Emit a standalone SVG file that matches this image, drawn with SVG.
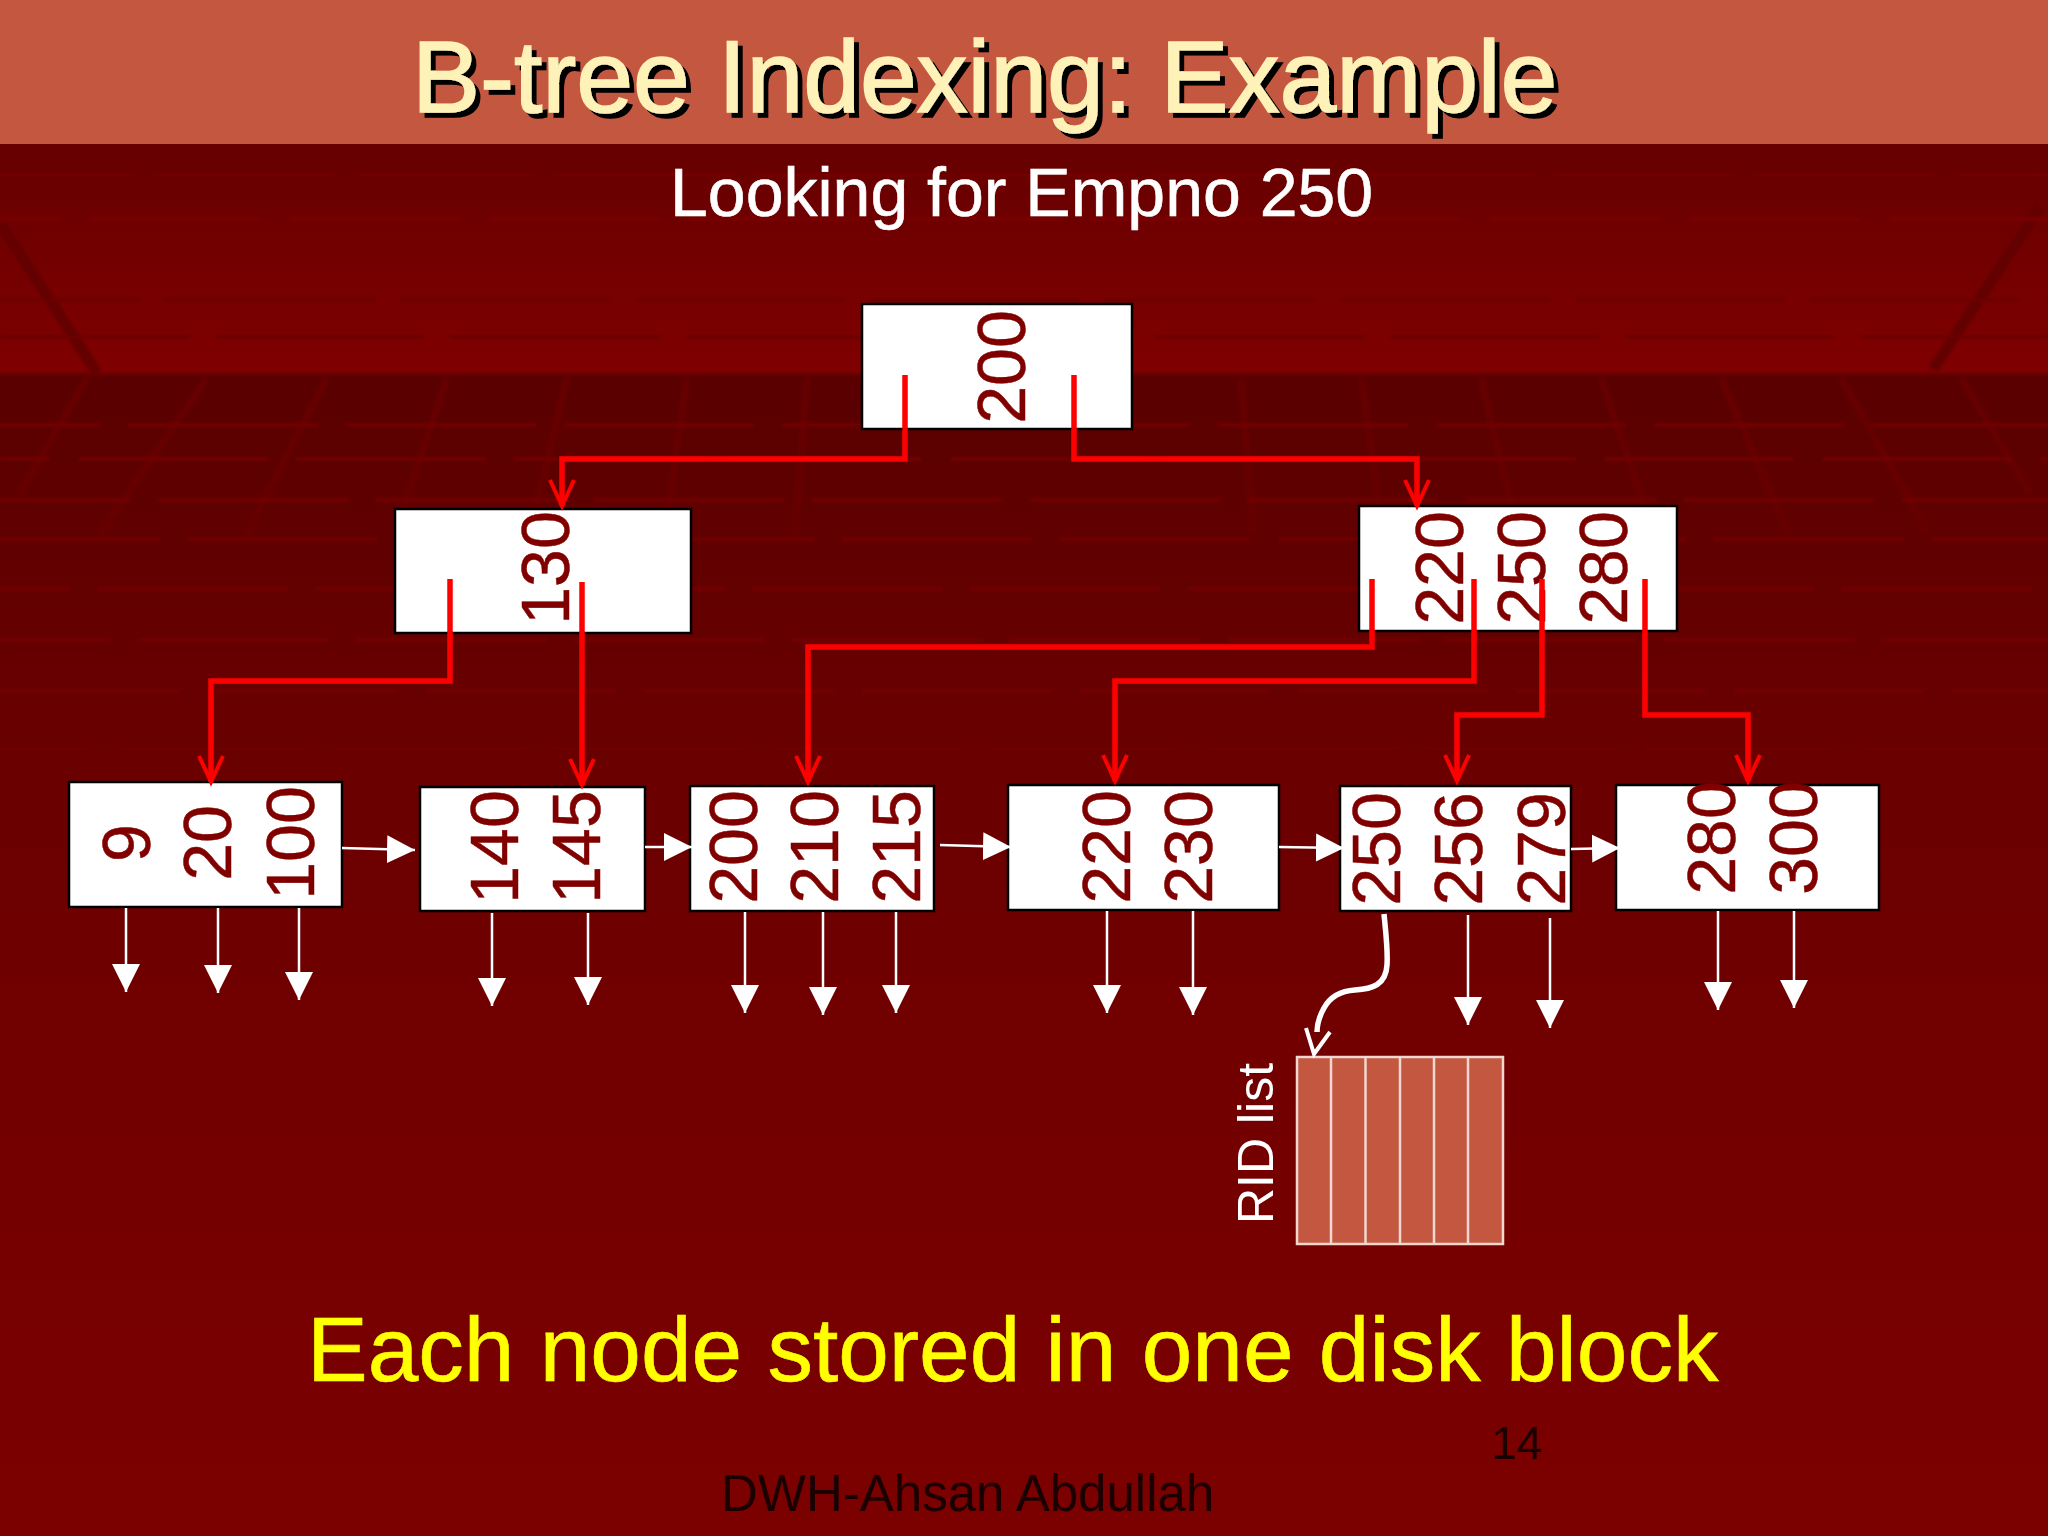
<svg xmlns="http://www.w3.org/2000/svg" width="2048" height="1536" viewBox="0 0 2048 1536">
<style>
.d{font-family:"Liberation Sans",Arial,sans-serif;font-size:68px;fill:#800000;stroke:#800000;stroke-width:.5;text-anchor:middle}
.box{fill:#fff;stroke:#000;stroke-width:2.5}
.red{fill:none;stroke:#f00;stroke-width:5.5;stroke-linejoin:miter;marker-end:url(#open)}
.wh{fill:none;stroke:#fff;stroke-width:2.5;marker-end:url(#solid)}
.sl{stroke:#7c0000;stroke-width:3.5;stroke-dasharray:170 30}
.sd{stroke:#6c0000;stroke-width:3.5;stroke-dasharray:210 25}
.sf{stroke:#760000;stroke-width:3;stroke-dasharray:190 28}
.fan{stroke:#660000;stroke-width:7;fill:none}
.diag{stroke:#640000;stroke-width:11;fill:none}
</style>
<defs>
<linearGradient id="bg" gradientUnits="userSpaceOnUse" x1="0" y1="144" x2="0" y2="1536">
<stop offset="0" stop-color="#660000"/>
<stop offset=".163" stop-color="#800000"/>
<stop offset=".167" stop-color="#5a0000"/>
<stop offset=".4" stop-color="#680000"/>
<stop offset=".65" stop-color="#720000"/>
<stop offset="1" stop-color="#7c0000"/>
</linearGradient>
<filter id="soft" x="0" y="0" width="1" height="1"><feGaussianBlur stdDeviation="1.5"/></filter>
<filter id="shadow" x="-5%" y="-20%" width="110%" height="140%"><feDropShadow dx="5" dy="5" stdDeviation="0" flood-color="#000"/></filter>
<marker id="open" markerUnits="userSpaceOnUse" markerWidth="40" markerHeight="40" refX="27" refY="20" orient="auto" viewBox="0 0 40 40" overflow="visible">
<path d="M1,8 L27,20 L1,32" fill="none" stroke="#f00" stroke-width="4"/>
</marker>
<marker id="solid" markerUnits="userSpaceOnUse" markerWidth="30" markerHeight="30" refX="28" refY="15" orient="auto" viewBox="0 0 30 30">
<path d="M0,1 L28,15 L0,29 Z" fill="#fff"/>
</marker>
</defs>
<rect width="2048" height="1536" fill="url(#bg)"/>
<g id="texture" filter="url(#soft)">
<path class="diag" d="M0,223L97,373M2040,207L1933,369"/>
<path class="fan" d="M87,378L20,493M207,378L100,533M327,378L247,533M447,378L395,533M567,378L530,533M687,378L665,533M807,378L795,533M1241,378L1253,533M1361,378L1383,533M1481,378L1518,533M1601,378L1653,533M1721,378L1788,533M1841,378L1928,533M1961,378L2030,493"/>
<line class="sl" x1="0" y1="174" x2="2048" y2="174" stroke-dashoffset="40"/>
<line class="sl" x1="0" y1="219" x2="2048" y2="219" stroke-dashoffset="110"/>
<line class="sd" x1="0" y1="300" x2="2048" y2="300" stroke-dashoffset="70"/>
<line class="sd" x1="0" y1="337" x2="2048" y2="337" stroke-dashoffset="20"/>
<line class="sf" x1="0" y1="425" x2="2048" y2="425" stroke-dashoffset="90"/>
<line class="sf" x1="0" y1="459" x2="2048" y2="459" stroke-dashoffset="140"/>
<line class="sf" x1="0" y1="500" x2="2048" y2="500" stroke-dashoffset="60"/>
<line class="sf" x1="0" y1="539" x2="2048" y2="539" stroke-dashoffset="30"/>
<line class="sf" x1="0" y1="589" x2="2048" y2="589" stroke-dashoffset="120"/>
<line class="sf" x1="0" y1="640" x2="2048" y2="640" stroke-dashoffset="80"/>
<line class="sf" x1="0" y1="691" x2="2048" y2="691" stroke-dashoffset="10"/>
<line class="sf" x1="0" y1="750" x2="2048" y2="750" stroke-dashoffset="100"/>
</g>
<rect width="2048" height="144" fill="#c4573f"/>
<text id="title" x="412" y="112" font-family="'Liberation Sans',Arial,sans-serif" font-size="102" fill="#fff2b8" stroke="#fff2b8" stroke-width="1.5" filter="url(#shadow)">B-tree Indexing: Example</text>
<text id="subtitle" x="670" y="216" font-family="'Liberation Sans',Arial,sans-serif" font-size="68" fill="#fff" stroke="#fff" stroke-width=".6">Looking for Empno 250</text>

<g id="node-root"><rect class="box" x="862" y="304" width="270" height="125"/><text class="d" transform="translate(1025 367) rotate(-90)">200</text></g>
<g id="node-130"><rect class="box" x="395" y="509" width="296" height="124"/><text class="d" transform="translate(569 568) rotate(-90)">130</text></g>
<g id="node-220-250-280"><rect class="box" x="1359" y="506" width="318" height="125"/>
<text class="d" transform="translate(1463 568) rotate(-90)">220</text><text class="d" transform="translate(1545 568) rotate(-90)">250</text><text class="d" transform="translate(1627 568) rotate(-90)">280</text></g>
<g id="leaf-1"><rect class="box" x="69" y="782" width="273" height="125"/>
<text class="d" transform="translate(150 843) rotate(-90)">9</text><text class="d" transform="translate(231 843) rotate(-90)">20</text><text class="d" transform="translate(314 843) rotate(-90)">100</text></g>
<g id="leaf-2"><rect class="box" x="420" y="787" width="225" height="124"/>
<text class="d" transform="translate(518 847) rotate(-90)">140</text><text class="d" transform="translate(600 847) rotate(-90)">145</text></g>
<g id="leaf-3"><rect class="box" x="690" y="786" width="244" height="125"/>
<text class="d" transform="translate(757 847) rotate(-90)">200</text><text class="d" transform="translate(838 847) rotate(-90)">210</text><text class="d" transform="translate(920 847) rotate(-90)">215</text></g>
<g id="leaf-4"><rect class="box" x="1008" y="785" width="271" height="125"/>
<text class="d" transform="translate(1130 847) rotate(-90)">220</text><text class="d" transform="translate(1212 847) rotate(-90)">230</text></g>
<g id="leaf-5"><rect class="box" x="1340" y="786" width="231" height="125"/>
<text class="d" transform="translate(1400 849) rotate(-90)">250</text><text class="d" transform="translate(1482 849) rotate(-90)">256</text><text class="d" transform="translate(1565 849) rotate(-90)">279</text></g>
<g id="leaf-6"><rect class="box" x="1616" y="785" width="263" height="125"/>
<text class="d" transform="translate(1735 838) rotate(-90)">280</text><text class="d" transform="translate(1817 838) rotate(-90)">300</text></g>
<g id="rid-list"><rect x="1297" y="1057" width="206" height="187" fill="#c4573f" stroke="#f0d8d0" stroke-width="2.5"/>
<path d="M1331,1057V1244M1365.500,1057V1244M1400,1057V1244M1434,1057V1244M1468,1057V1244" stroke="#f0d8d0" stroke-width="2.500" fill="none"/>
<text x="1273" y="1224" transform="rotate(-90 1273 1224)" font-family="'Liberation Sans',Arial,sans-serif" font-size="50" fill="#fff">RID list</text></g>

<g id="connectors">
<path class="red" d="M905,375V459H562V506"/>
<path class="red" d="M1074,375V459H1417V506"/>
<path class="red" d="M450,579V681H211V782"/>
<path class="red" d="M582,582V785"/>
<path class="red" d="M1372,579V647H808V782"/>
<path class="red" d="M1474,579V681H1115V781"/>
<path class="red" d="M1542,579V715H1457V781"/>
<path class="red" d="M1645,579V715H1748V781"/>
<path class="wh" d="M342,848L415,850"/>
<path class="wh" d="M645,847H692"/>
<path class="wh" d="M940,845L1011,847"/>
<path class="wh" d="M1279,847L1344,848"/>
<path class="wh" d="M1571,849L1620,848"/>
<path class="wh" d="M126,908V992"/>
<path class="wh" d="M218,908V993"/>
<path class="wh" d="M299,908V1000"/>
<path class="wh" d="M492,913V1006"/>
<path class="wh" d="M588,913V1005"/>
<path class="wh" d="M745,912V1013"/>
<path class="wh" d="M823,912V1015"/>
<path class="wh" d="M896,912V1013"/>
<path class="wh" d="M1107,911V1013"/>
<path class="wh" d="M1193,911V1015"/>
<path class="wh" d="M1468,915V1025"/>
<path class="wh" d="M1550,918V1028"/>
<path class="wh" d="M1718,911V1010"/>
<path class="wh" d="M1794,911V1008"/>
<path d="M1384,914C1386,935 1388,950 1387,965C1386,985 1372,989 1355,990C1340,991 1330,997 1324,1008C1319,1017 1317,1025 1317,1032" fill="none" stroke="#fff" stroke-width="5.500"/>
<path d="M1306,1028L1314,1054L1330,1032" fill="none" stroke="#fff" stroke-width="4"/>
</g>

<g id="footer" font-family="'Liberation Sans',Arial,sans-serif">
<text x="307" y="1381" font-size="91" fill="#ff0" stroke="#ff0" stroke-width=".6">Each node stored in one disk block</text>
<text x="1491" y="1459" font-size="46" fill="#1a0000">14</text>
<text x="721" y="1511" font-size="51" fill="#1a0000">DWH-Ahsan Abdullah</text>
</g>
</svg>
